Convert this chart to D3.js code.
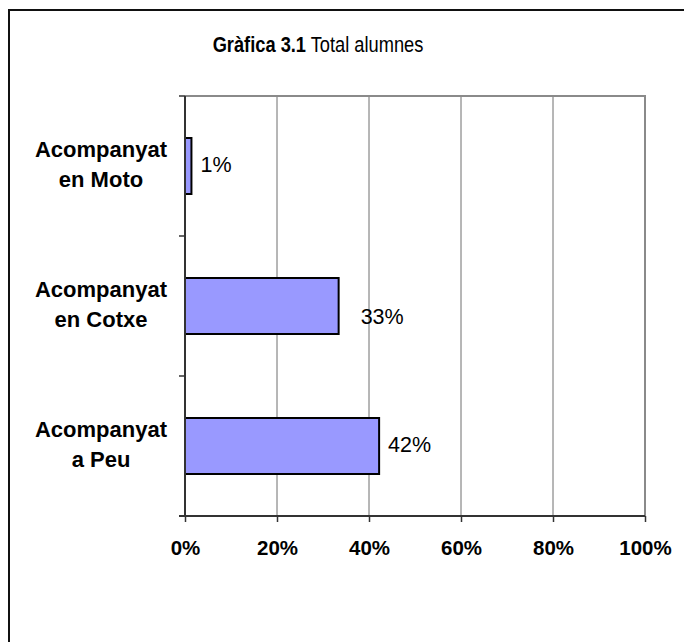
<!DOCTYPE html>
<html>
<head>
<meta charset="utf-8">
<script src="https://cdn.jsdelivr.net/npm/d3@7"></script>
<style>
  body { margin: 0; background: #fff; }
  text { font-family: "Liberation Sans", Arial, sans-serif; }
</style>
</head>
<body>
<div id="chart"></div>
<script>
// data
var categories = ["Acompanyat en Moto", "Acompanyat en Cotxe", "Acompanyat a Peu"];
var catLines = [["Acompanyat", "en Moto"], ["Acompanyat", "en Cotxe"], ["Acompanyat", "a Peu"]];
var values = [0.014, 0.334, 0.422];
var xTicks = [0, 0.2, 0.4, 0.6, 0.8, 1];

var width = 684, height = 642;
var margin = {top: 96, right: 39, bottom: 126, left: 185};

var svg = d3.select("#chart").append("svg")
    .attr("width", width)
    .attr("height", height);

// outer chart border (runs off the right / bottom edge)
svg.append("rect")
    .attr("x", 9).attr("y", 10)
    .attr("width", 720).attr("height", 720)
    .attr("fill", "#fff")
    .attr("stroke", "#111")
    .attr("stroke-width", 2);

// title is set in a condensed face in the original, so squeeze it horizontally
var title = svg.append("text")
    .attr("transform", "translate(318,52) scale(0.83,1)")
    .attr("text-anchor", "middle")
    .style("font-size", "22px");
title.append("tspan").attr("font-weight", "bold").text("Gràfica 3.1");
title.append("tspan").text(" Total alumnes");

var xScale = d3.scaleLinear()
    .domain([0, 1])
    .range([margin.left, width - margin.right]);
var yScale = d3.scaleBand()
    .domain(categories)
    .range([margin.top, height - margin.bottom])
    .paddingInner(0.6)
    .paddingOuter(0.3);

var x0 = xScale(0), x1 = xScale(1),
    yTop = margin.top, yBot = height - margin.bottom;

// gridlines
svg.append("g").selectAll("line")
    .data(xTicks.slice(1, -1))
  .enter().append("line")
    .attr("x1", d => xScale(d)).attr("x2", d => xScale(d))
    .attr("y1", yTop).attr("y2", yBot)
    .attr("stroke", "#6e6e6e")
    .attr("stroke-width", 1);

// plot area top / right edge
svg.append("path")
    .attr("d", "M" + x0 + "," + yTop + "H" + x1 + "V" + yBot)
    .attr("fill", "none")
    .attr("stroke", "#8a8a8a")
    .attr("stroke-width", 2);

// bars
svg.append("g").selectAll("rect")
    .data(values)
  .enter().append("rect")
    .attr("x", x0)
    .attr("y", (d, i) => yScale(categories[i]))
    .attr("width", d => xScale(d) - x0)
    .attr("height", yScale.bandwidth())
    .attr("fill", "#9999ff")
    .attr("stroke", "#000")
    .attr("stroke-width", 2);

// value labels; the middle one sits lower/further right like in the original
var fmt = d3.format(".0%");
var nudge = [[0, 0], [13, 12], [0, 0]];
svg.append("g").selectAll("text")
    .data(values)
  .enter().append("text")
    .attr("x", (d, i) => xScale(d) + 9 + nudge[i][0])
    .attr("y", (d, i) => yScale(categories[i]) + yScale.bandwidth() / 2 + 6 + nudge[i][1])
    .style("font-size", "21.5px")
    .attr("fill", "#000")
    .text(fmt);

// x axis
var xAxis = svg.append("g")
    .attr("transform", "translate(0," + yBot + ")")
    .call(d3.axisBottom(xScale).tickValues(xTicks).tickFormat(fmt).tickSize(6).tickSizeOuter(0));
xAxis.select(".domain").remove();
xAxis.append("line")
    .attr("x1", x0 - 6).attr("x2", x1)
    .attr("stroke", "#333").attr("stroke-width", 2);
xAxis.selectAll(".tick line").attr("stroke", "#333").attr("stroke-width", 1.5);
xAxis.selectAll(".tick text")
    .attr("y", 39).attr("dy", 0)
    .attr("fill", "#000")
    .style("font-family", "'Liberation Sans', Arial, sans-serif")
    .style("font-size", "20.5px")
    .style("font-weight", "bold");

// y axis: ticks at band boundaries
var yBounds = d3.range(categories.length + 1).map(i => yTop + i * yScale.step());
var yAxis = svg.append("g");
yAxis.append("line")
    .attr("x1", x0).attr("x2", x0)
    .attr("y1", yTop).attr("y2", yBot)
    .attr("stroke", "#333").attr("stroke-width", 2);
yAxis.selectAll(".ytick")
    .data(yBounds)
  .enter().append("line")
    .attr("class", "ytick")
    .attr("x1", x0 - 6).attr("x2", x0)
    .attr("y1", d => d).attr("y2", d => d)
    .attr("stroke", "#333").attr("stroke-width", 1.5);

// category labels, two lines each
var labels = svg.append("g").selectAll("text")
    .data(categories)
  .enter().append("text")
    .attr("text-anchor", "middle")
    .style("font-size", "22px")
    .style("font-weight", "bold")
    .attr("fill", "#000");
labels.each(function(c, i) {
  var cy = yScale(c) + yScale.bandwidth() / 2;
  d3.select(this).selectAll("tspan")
      .data(catLines[i])
    .enter().append("tspan")
      .attr("x", 101)
      .attr("y", (d, j) => cy - 9 + j * 30)
      .text(d => d);
});
</script>
</body>
</html>
